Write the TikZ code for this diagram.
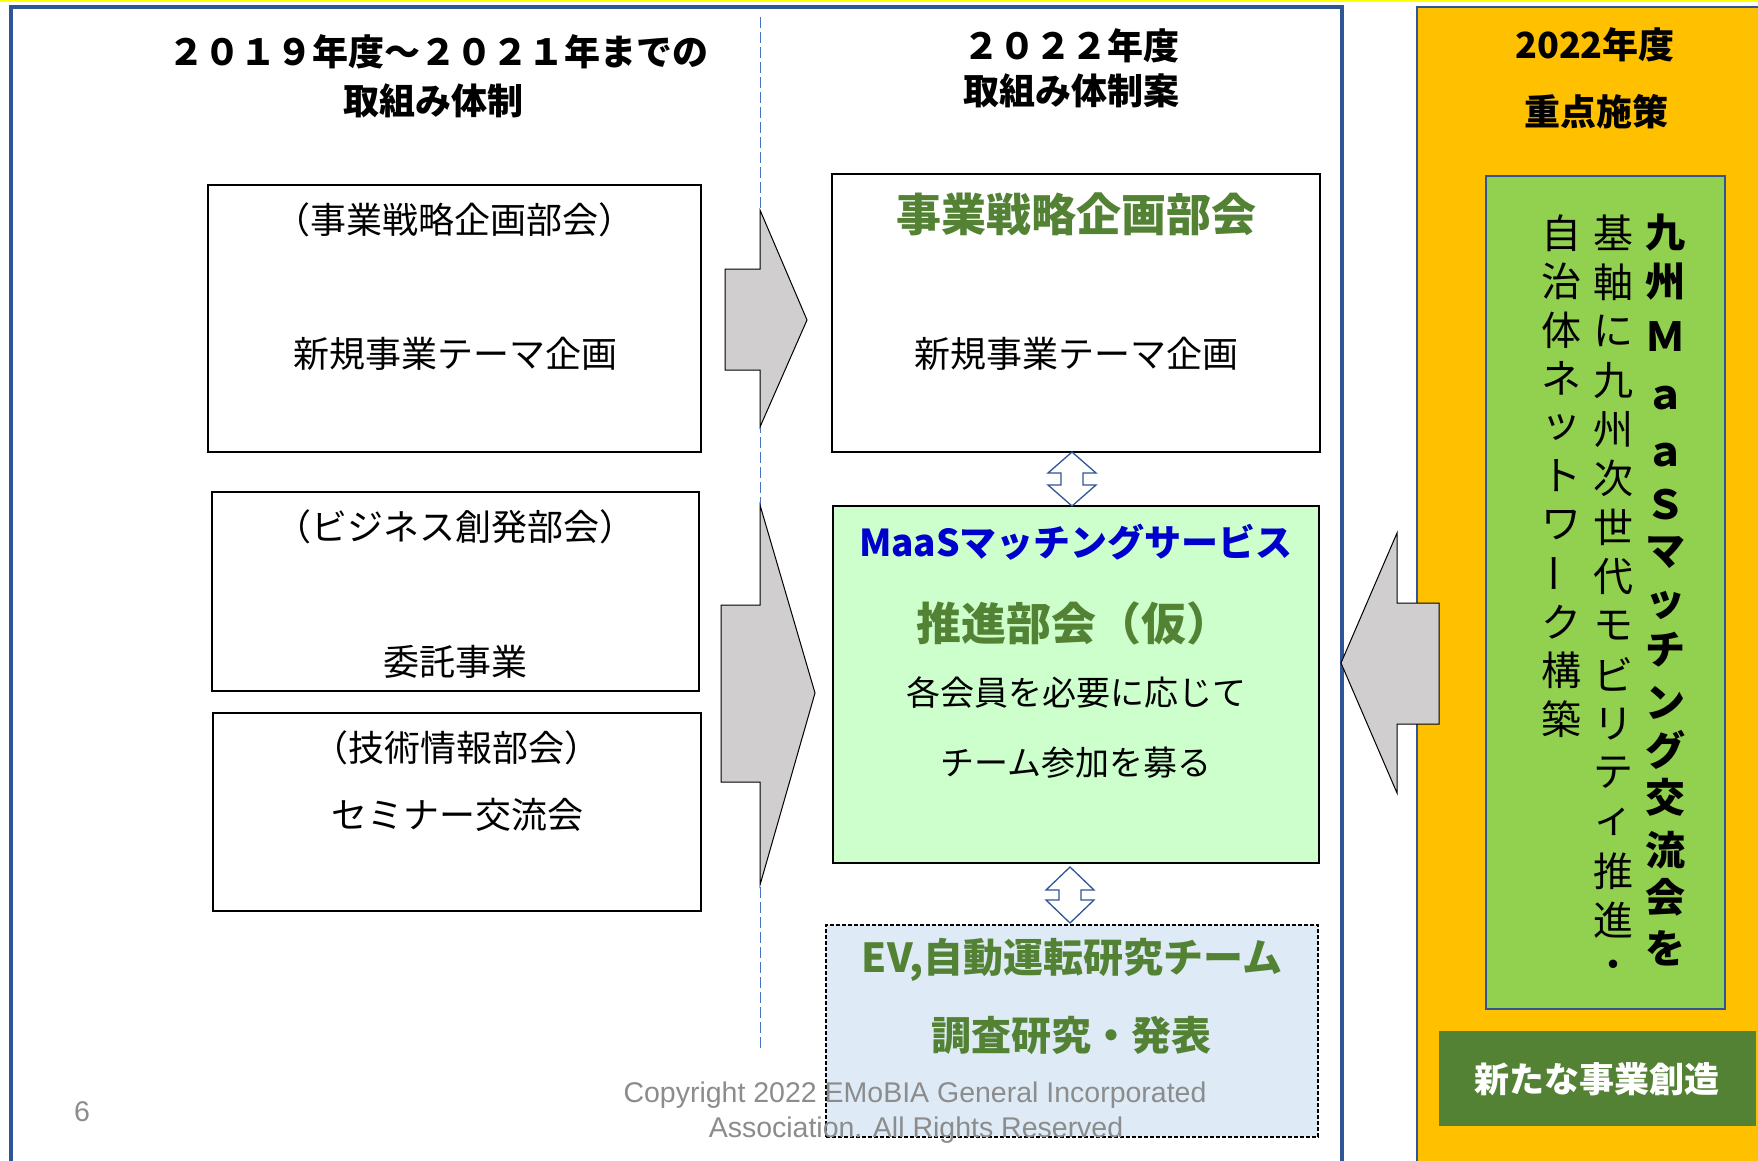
\documentclass[tikz,border=0pt]{standalone}
\usepackage{fontspec}
\usepackage{graphicx}
\setmainfont{Noto Sans CJK JP}
\newfontfamily\latfont{Liberation Sans}
\definecolor{frameblue}{HTML}{2F5597}
\definecolor{dashblue}{HTML}{4472C4}
\definecolor{orangeC}{HTML}{FFC000}
\definecolor{limeC}{HTML}{92D050}
\definecolor{dgreen}{HTML}{548235}
\definecolor{gtext}{HTML}{548235}
\definecolor{maasblue}{HTML}{0000CC}
\definecolor{mint}{HTML}{CCFFCC}
\definecolor{paleblue}{HTML}{DEEBF7}
\definecolor{arrowgray}{HTML}{D0CECE}
\definecolor{cgray}{HTML}{8C8C8C}
\definecolor{topyellow}{HTML}{FFFF00}
\tikzset{
 txt/.style={inner sep=0pt, outer sep=0pt, anchor=center},
 headtxt/.style={txt, font=\bfseries\fontsize{36}{40}\selectfont},
 bodytxt/.style={txt, font=\fontsize{36}{40}\selectfont},
 midtxt/.style={txt, font=\fontsize{34}{40}\selectfont},
 greentitle/.style={txt, text=gtext, font=\bfseries\fontsize{45}{48}\selectfont},
 greensub/.style={txt, text=gtext, font=\bfseries\fontsize{40}{44}\selectfont},
 boxshape/.style={rectangle, draw=black, line width=1.5pt, inner sep=0pt, outer sep=0pt},
 blockarrow/.style={draw=black, line width=1pt, fill=arrowgray, line join=miter},
 dblarrow/.style={draw=frameblue, line width=1.3pt, fill=white, line join=miter},
 vbold/.style={txt, font=\bfseries\fontsize{40}{40}\selectfont},
 vreg/.style={txt, font=\fontsize{40}{40}\selectfont},
 copytxt/.style={txt, text=cgray, font=\latfont\fontsize{28.5}{30}\selectfont},
}
\begin{document}
\begin{tikzpicture}[x=1pt,y=-1pt]
\useasboundingbox (0,0) rectangle (1758,1161);
\clip (0,0) rectangle (1758,1161);
\fill[white] (0,0) rectangle (1758,1161);
\fill[topyellow] (0,0) rectangle (1758,2.5);

% right panel
\draw[frameblue, line width=2pt, fill=orangeC] (1417,7) rectangle (1790,1190);
% main frame
\draw[frameblue, line width=4pt] (11,7.5) rectangle (1342,1190);
% divider
\draw[dashblue, line width=1pt, dash pattern=on 11pt off 4pt] (760,17) -- (760,1048);

% headings
\node[headtxt] (h1) at (438,52) {２０１９年度～２０２１年までの};
\node[headtxt] (h2) at (433,101) {取組み体制};
\node[headtxt] (h3) at (1071,46) {２０２２年度};
\node[headtxt] (h4) at (1071,91) {取組み体制案};
\node[headtxt] (h5) at (1595,45) {2022年度};
\node[headtxt] (h6) at (1596,112) {重点施策};

% left boxes
\node[boxshape, minimum width=493pt, minimum height=267pt] (boxA) at (454.5,318.5) {};
\node[boxshape, minimum width=487pt, minimum height=199pt] (boxB) at (455.5,591.5) {};
\node[boxshape, minimum width=488pt, minimum height=198pt] (boxC) at (457,812) {};
\node[bodytxt] (tA1) at (454,220) {（事業戦略企画部会）};
\node[bodytxt] (tA2) at (455,354) {新規事業テーマ企画};
\node[bodytxt] (tB1) at (455,527) {（ビジネス創発部会）};
\node[bodytxt] (tB2) at (455,662) {委託事業};
\node[bodytxt] (tC1) at (456,748) {（技術情報部会）};
\node[bodytxt] (tC2) at (457,815) {セミナー交流会};

% middle boxes
\node[boxshape, minimum width=488pt, minimum height=278pt] (boxD) at (1076,313) {};
\node[boxshape, fill=mint, minimum width=486pt, minimum height=357pt] (boxE) at (1076,684.5) {};
\node[boxshape, fill=paleblue, line width=1.3pt, dash pattern=on 4pt off 2pt, minimum width=492pt, minimum height=212pt] (boxF) at (1072,1031) {};

\node[greentitle] (tD1) at (1076,214) {事業戦略企画部会};
\node[bodytxt] (tD2) at (1076,354) {新規事業テーマ企画};
\node[txt, text=maasblue, font=\bfseries\fontsize{37}{40}\selectfont] (tE1) at (1076,542) {MaaSマッチングサービス};
\node[greentitle] (tE2) at (1074,623) {推進部会（仮）};
\node[midtxt] (tE3) at (1076,693) {各会員を必要に応じて};
\node[midtxt] (tE4) at (1076,763) {チーム参加を募る};
\node[greensub] (tF1) at (1072,960) {EV,自動運転研究チーム};
\node[greensub] (tF2) at (1071,1035) {調査研究・発表};

% right panel contents
\node[rectangle, draw=frameblue, line width=1.5pt, fill=limeC, minimum width=239pt, minimum height=833pt, inner sep=0pt] (boxG) at (1605.5,592.5) {};
\node[rectangle, fill=dgreen, minimum width=317pt, minimum height=95pt, inner sep=0pt] (boxH) at (1597.5,1078.5) {};
\node[txt, text=white, font=\bfseries\fontsize{35}{40}\selectfont] (tH) at (1597,1079) {新たな事業創造};

\foreach \c/\yy [count=\i] in {九/233,州/282,Ｍ/337,ａ/398,ａ/455,Ｓ/505,マ/552,ッ/605,チ/650,ン/703,グ/750,交/797,流/850,会/897,を/948}
  \node[vbold] (va\i) at (1665,\yy) {\c};
\foreach \c [count=\i from 0] in {基,軸,に,九,州,次,世,代,モ,ビ,リ,テ,ィ,推,進,・}
  \node[vreg] (vb\i) at (1613,{233+49.1*\i}) {\c};
\foreach \c [count=\i from 0] in {自,治,体,ネ,ッ,ト,ワ,{\rotatebox[origin=c]{90}{ー}},ク,構,築}
  \node[vreg] (vc\i) at (1561,{233+48.6*\i}) {\c};

% block arrows
\draw[blockarrow] (725,269) -- (760,269) -- (760,210) -- (807,320) -- (760,427) -- (760,370) -- (725,370) -- cycle;
\draw[blockarrow] (721,605) -- (760,605) -- (760,505) -- (815,693) -- (760,885) -- (760,782) -- (721,782) -- cycle;
\draw[blockarrow] (1439,603) -- (1397,603) -- (1397,533) -- (1341,663) -- (1397,793) -- (1397,724) -- (1439,724) -- cycle;

% double arrows
\draw[dblarrow] (1072,452) -- (1096,473) -- (1083,473) -- (1083,485) -- (1096,485) -- (1072,506) -- (1048,485) -- (1061,485) -- (1061,473) -- (1048,473) -- cycle;
\draw[dblarrow] (1070,867) -- (1094,890) -- (1081,890) -- (1081,900) -- (1094,900) -- (1070,923) -- (1046,900) -- (1059,900) -- (1059,890) -- (1046,890) -- cycle;

% footer
\node[copytxt] (cp1) at (915,1095) {Copyright 2022 EMoBIA General Incorporated};
\node[copytxt] (cp2) at (916,1130) {Association. All Rights Reserved};
\node[copytxt] (pg) at (82,1112) {6};
\end{tikzpicture}
\end{document}
